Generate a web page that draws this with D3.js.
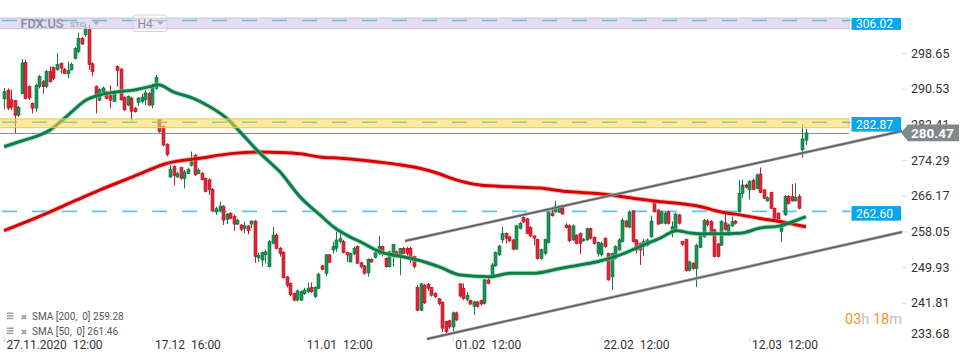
<!DOCTYPE html>
<html>
<head>
    <meta charset="utf-8">
    <title>FDX.US H4</title>
    <script src="https://cdn.jsdelivr.net/npm/d3@7"></script>
    <style>
        body { margin: 0; background: #fff; }
        svg { display: block; }
    </style>
</head>
<body>
<div id="chart"></div>
<script>
// Variables
var symbol = "FDX.US";
var market = "STC";
var interval = "H4";

// H4 candles, oldest first: [open, high, low, close]
var ohlc = [
    [288.2,290.7,285.8,289.9],[290.2,290.6,285.7,286.1],[288.0,290.3,285.7,286.3],[287.8,288.0,280.4,284.5],
    [284.5,286.6,284.1,286.3],[289.4,297.3,289.3,296.4],[296.5,297.1,288.1,288.3],[291.0,291.3,288.0,288.4],
    [287.2,287.4,284.9,286.1],[286.1,291.7,285.3,291.3],[291.0,293.7,290.6,293.3],[292.1,292.5,289.4,291.0],
    [291.0,294.8,290.6,294.4],[294.4,295.6,291.9,292.1],[295.4,295.6,292.5,292.9],[294.8,298.6,294.7,296.0],
    [296.3,296.5,294.0,295.2],[295.0,295.2,293.9,294.0],[293.9,296.7,292.9,294.7],[294.8,296.5,294.7,296.1],
    [297.4,300.0,297.2,299.7],[299.0,303.2,298.6,302.0],[302.0,302.3,300.5,300.7],[302.8,305.3,302.3,304.1],
    [304.1,305.0,294.8,296.0],[296.2,296.5,293.3,294.4],[291.0,291.3,284.9,289.1],[287.9,290.6,287.7,290.3],
    [289.6,291.0,289.3,290.7],[289.8,290.1,288.1,288.3],[289.0,291.3,286.1,287.9],[287.6,290.2,287.5,289.8],
    [295.6,295.8,291.0,294.7],[295.0,295.2,287.8,288.0],[288.5,288.8,285.5,285.7],[286.8,289.0,286.6,288.8],
    [288.4,288.6,283.3,285.4],[286.1,286.3,285.1,285.3],[287.4,288.6,286.6,288.4],[287.6,289.3,287.2,288.6],
    [288.0,290.2,286.8,289.6],[289.4,289.8,286.6,286.8],[286.8,291.7,286.1,291.3],[290.6,293.7,290.3,293.1],
    [283.5,283.6,280.5,280.8],[281.9,282.1,277.4,277.7],[277.9,278.1,275.1,275.5],[270.4,273.1,270.3,272.2],
    [272.8,273.1,268.6,270.8],[270.4,271.6,270.3,271.2],[272.6,272.8,269.8,270.1],[270.1,272.0,267.8,271.6],
    [271.2,272.5,271.1,272.2],[273.1,276.2,272.8,273.9],[275.4,275.7,270.7,270.9],[271.2,272.4,271.1,272.0],
    [271.2,271.6,269.7,269.8],[270.1,270.3,266.9,267.1],[269.8,270.1,266.3,267.5],[267.6,267.9,262.5,262.7],
    [262.5,263.7,261.8,263.2],[262.8,264.8,262.5,263.8],[263.8,264.0,259.5,260.6],[260.8,262.2,259.7,262.0],
    [262.2,262.4,260.8,261.0],[261.5,261.8,258.2,259.7],[259.7,260.9,259.5,260.6],[259.5,259.7,258.0,258.5],
    [258.7,260.2,257.7,259.3],[259.3,259.5,257.4,258.2],[259.7,260.5,258.7,260.4],[260.4,260.6,250.9,252.3],
    [252.0,253.2,251.1,252.6],[251.5,253.4,250.0,253.2],[252.7,253.9,250.8,253.4],[250.0,256.1,249.8,255.7],
    [255.3,259.0,255.1,257.2],[257.2,257.6,253.9,254.2],[254.2,254.5,252.3,253.0],[253.3,253.5,247.3,247.5],
    [247.7,247.9,245.3,245.8],[246.2,246.4,243.3,243.6],[243.9,244.1,242.1,242.4],[242.4,244.8,242.1,244.5],
    [242.4,244.6,242.2,244.3],[243.9,245.2,243.6,244.7],[244.3,246.4,244.0,245.1],[245.3,246.4,244.1,244.3],
    [243.2,245.5,242.9,245.3],[245.1,248.6,244.9,248.3],[250.2,250.4,249.2,249.4],[248.5,252.9,247.9,252.7],
    [252.7,252.9,250.8,251.0],[253.8,255.7,253.0,254.6],[254.2,258.0,253.4,256.1],[255.7,257.6,255.3,256.4],
    [255.7,256.1,253.0,253.2],[253.2,253.4,251.1,252.7],[251.1,253.2,250.9,253.0],[252.9,254.6,252.7,254.2],
    [254.6,254.9,250.6,250.8],[250.9,251.1,249.6,250.0],[250.2,250.4,248.2,248.5],[248.6,251.9,247.7,251.7],
    [251.7,251.9,250.9,251.1],[252.1,253.7,251.9,253.2],[253.0,257.0,252.7,254.6],[254.6,254.8,252.3,253.0],
    [251.9,252.1,249.8,250.0],[250.0,253.7,249.8,253.4],[252.3,255.2,250.0,255.1],[253.4,253.7,252.0,252.7],
    [252.4,254.3,248.1,254.2],[254.2,254.5,252.8,253.0],[254.2,254.5,252.5,253.0],[254.2,254.5,250.8,251.9],
    [252.3,252.5,249.6,250.0],[245.3,245.8,239.9,240.1],[240.1,246.3,239.9,246.1],[245.8,246.1,241.5,241.8],
    [246.0,246.3,244.5,245.1],[245.3,245.4,243.2,243.5],[243.9,244.2,242.9,243.2],[242.7,242.9,241.2,241.6],
    [241.9,242.1,235.1,236.0],[237.5,237.7,234.8,235.2],[237.7,237.9,235.9,236.3],[236.3,239.8,235.2,239.5],
    [239.5,239.8,237.6,237.9],[246.1,246.2,243.0,243.3],[245.1,246.2,242.4,242.8],[242.6,244.2,242.1,243.5],
    [242.3,242.5,241.3,241.5],[241.0,242.3,239.0,242.0],[242.0,242.2,240.7,241.0],[242.3,242.5,241.2,241.5],
    [241.7,247.2,241.4,247.0],[247.0,247.4,246.0,246.2],[247.8,250.8,247.6,250.4],[250.2,253.5,250.0,253.2],
    [252.7,255.0,252.5,254.7],[256.1,259.1,255.3,257.6],[257.6,257.8,255.3,256.5],[256.8,257.0,255.6,255.9],
    [256.1,256.3,253.7,254.0],[254.0,259.5,253.8,259.3],[258.7,260.2,258.5,259.9],[261.2,261.5,259.9,260.2],
    [260.9,261.1,257.4,257.6],[258.9,259.2,256.7,257.0],[257.0,257.2,254.9,256.5],[256.2,256.4,251.6,251.9],
    [251.9,254.1,251.6,253.9],[253.0,256.4,252.7,256.2],[255.5,262.6,255.3,262.3],[262.2,262.9,261.4,261.6],
    [262.5,265.0,262.3,263.8],[262.4,264.0,262.2,263.8],[263.8,264.1,261.8,262.0],[259.5,259.9,258.7,258.9],
    [259.3,259.6,255.6,255.9],[256.1,259.6,255.9,259.3],[257.2,257.4,255.1,255.3],[257.6,257.8,252.9,255.3],
    [255.9,256.5,255.7,256.2],[256.1,258.9,255.9,258.7],[258.7,258.9,256.2,256.5],[256.7,256.9,255.0,255.3],
    [253.0,255.7,252.3,255.5],[252.7,255.7,252.3,255.3],[256.5,256.7,254.3,254.6],[253.0,253.2,246.8,247.0],
    [247.7,253.2,244.7,253.0],[251.9,254.9,251.6,254.6],[253.8,256.5,253.6,256.1],[255.7,261.0,255.5,260.6],
    [260.4,260.6,258.9,259.1],[259.0,262.8,258.8,262.5],[262.7,262.9,255.5,255.7],[256.1,256.3,253.0,253.8],
    [255.3,255.5,250.4,253.8],[254.6,256.3,252.4,255.7],[254.9,256.4,254.6,256.1],[256.8,261.6,256.6,260.4],
    [264.8,265.1,262.3,262.5],[262.9,263.1,259.5,259.7],[259.9,262.8,259.7,262.5],[259.9,262.5,259.6,262.2],
    [262.5,262.8,259.6,259.9],[258.0,260.3,256.7,259.1],[258.4,262.3,258.2,262.0],[261.8,262.0,259.6,259.9],
    [255.7,255.9,254.7,255.1],[256.2,256.4,248.9,249.1],[249.2,251.4,248.9,251.1],[250.8,251.0,249.3,249.6],
    [249.6,255.2,245.4,254.9],[254.4,257.5,254.2,257.2],[256.8,260.9,256.6,260.6],[260.4,260.8,259.2,259.6],
    [260.3,260.6,257.4,257.6],[258.4,258.6,252.1,252.3],[255.2,255.4,252.1,252.3],[254.9,260.6,254.7,260.3],
    [260.0,262.1,258.2,258.5],[257.2,259.8,257.0,259.5],[259.3,261.4,259.1,260.3],[260.4,260.6,259.6,259.9],
    [262.5,269.7,262.3,266.7],[266.7,269.9,265.6,268.6],[268.6,268.9,267.8,268.1],[267.5,269.7,265.3,269.4],
    [269.7,270.0,267.4,267.6],[267.8,271.2,267.6,270.9],[271.1,272.6,266.7,266.9],[267.5,267.7,265.4,265.6],
    [265.0,266.0,264.8,265.7],[266.9,267.1,263.1,263.3],[263.3,263.5,260.6,260.8],[262.2,262.4,260.1,260.3],
    [258.0,260.1,255.7,259.9],[261.8,266.3,261.6,266.0],[266.0,266.3,264.2,264.4],[266.0,268.8,264.8,265.0],
    [265.0,269.0,264.8,265.8],[266.0,266.5,263.1,263.3],[276.6,282.4,274.8,279.1],[278.8,281.4,277.7,280.47]
];

// moving averages: [candle index, price]
var sma50 = [
    [0,277.3],[4.5,278.5],[10.2,280.0],[13,281.1],[17.7,284.2],[23.4,288.0],[27.2,289.1],[31.9,289.8],
    [36.6,290.2],[41.3,291.0],[43.7,291.4],[47.9,289.8],[53.6,288.3],[57.4,286.8],[63,283.8],[66.8,280.7],
    [72.5,275.8],[78.1,271.6],[83.8,265.9],[89.4,261.8],[93.7,258.8],[97.9,256.8],[100.8,255.7],[106.4,253.4],
    [112.1,252.4],[117.7,251.4],[123.4,249.9],[129.1,248.1],[137.6,247.7],[143.2,248.5],[149.7,248.5],
    [157.4,249.6],[163,250.4],[168.7,251.3],[174.4,252.7],[180,254.6],[185.7,256.5],[190.4,258.2],
    [194.2,257.7],[198.9,257.5],[204.6,257.5],[208.3,257.6],[214,258.8],[219.6,259.3],[223.4,260.3],[227,261.4]
];
var sma200 = [
    [0,258.2],[10.2,261.5],[20.6,265.2],[27.2,267.5],[36.6,270.5],[46,273.5],[55.5,274.7],[64.9,275.8],
    [72.5,276.1],[78.1,276.0],[83.8,275.7],[89.4,275.0],[95.1,274.7],[100.8,274.3],[106.4,273.8],[112.1,273.2],
    [117.7,272.4],[123.4,271.1],[127.1,270.0],[134.7,268.6],[143.2,268.2],[151.7,267.9],[159.4,267.1],
    [168.7,266.6],[178,265.6],[185.7,264.8],[191.3,264.4],[197,263.7],[202.7,262.5],[208.3,261.8],
    [214,261.0],[219.6,260.3],[223.3,259.7],[227,259.1]
];

// trend channel: two points each, [candle index, price]
var channelUpper = [[113.5, 255.85], [254.2, 280.89]];
var channelLower = [[119.7, 233.55], [254.2, 257.9]];

// horizontal levels and zones
var levelLines = [306.02, 282.87, 262.60];
var lastPrice = 280.47;
var zones = [[304.2, 306.6], [281.65, 283.65]];

// axes
var priceTicks = [298.65, 290.53, 282.41, 274.29, 266.17, 258.05, 249.93, 241.81, 233.68];
var timeTicks = [0, 42, 85, 127, 169, 211];
var timeLabels = ["27.11.2020  12:00", "17.12  16:00", "11.01  12:00", "01.02  12:00", "22.02  12:00", "12.03  12:00"];

var legendRows = ["SMA [200,  0] 259.28", "SMA [50,  0] 261.46"];
var countdown = [["03", "h"], ["18", "m"]];

var width = 970, height = 364;
var plotRight = 849;
var svg, x, y;

var fontFamily = "Roboto, 'Liberation Sans', sans-serif";

// Functions
function init() {
    svg = d3.select("#chart")
        .append("svg")
        .attr("width", width)
        .attr("height", height);

    x = d3.scaleLinear().domain([0, ohlc.length - 1]).range([4, 806]);
    y = d3.scaleLinear().domain([241.81, 298.65]).range([302.7, 53]);

    svg.append("defs").append("clipPath")
        .attr("id", "plot-clip")
        .append("rect")
        .attr("x", 0).attr("y", 15)
        .attr("width", 903).attr("height", 326);

    drawLevels();
    drawCandles();
    drawAverages();
    drawChannel();
    drawZones();
    drawHeader();
    drawPriceAxis();
    drawTimeAxis();
    drawLegend();
}

function crisp(v) {
    return Math.round(v) + 0.5;
}

/**
 * Current price line and the 262.60 level, under the candles
 */
function drawLevels() {
    svg.append("line")
        .attr("x1", 0).attr("x2", plotRight)
        .attr("y1", crisp(y(lastPrice))).attr("y2", crisp(y(lastPrice)))
        .attr("stroke", "#8d9497")
        .attr("stroke-width", 1);

    svg.append("line")
        .attr("x1", 2).attr("x2", plotRight)
        .attr("y1", y(levelLines[2])).attr("y2", y(levelLines[2]))
        .attr("stroke", "#5cc3f3")
        .attr("stroke-width", 1.6)
        .attr("stroke-dasharray", "15,15");
}

/**
 * Candles: wick first, body on top
 */
function drawCandles() {
    var g = svg.append("g").attr("clip-path", "url(#plot-clip)");

    var candle = g.selectAll("g.candle")
        .data(ohlc)
        .join("g")
        .attr("class", "candle");

    candle.append("line")
        .attr("x1", function (d, i) { return Math.round(x(i)) + 0.5; })
        .attr("x2", function (d, i) { return Math.round(x(i)) + 0.5; })
        .attr("y1", function (d) { return y(d[1]); })
        .attr("y2", function (d) { return y(d[2]); })
        .attr("stroke", function (d) { return d[3] >= d[0] ? "#0f7a44" : "#c41a2a"; })
        .attr("stroke-width", 1);

    candle.append("rect")
        .attr("x", function (d, i) { return Math.round(x(i)) - 1; })
        .attr("y", function (d) { return y(Math.max(d[0], d[3])); })
        .attr("width", 3)
        .attr("height", function (d) { return Math.max(1, Math.abs(y(d[0]) - y(d[3]))); })
        .attr("fill", function (d) { return d[3] >= d[0] ? "#179552" : "#e0263b"; })
        .attr("stroke", function (d) { return d[3] >= d[0] ? "#0d6e3c" : "#b2141f"; })
        .attr("stroke-width", 0.6);
}

function drawAverages() {
    var line = d3.line()
        .x(function (d) { return x(d[0]); })
        .y(function (d) { return y(d[1]); })
        .curve(d3.curveMonotoneX);

    var g = svg.append("g").attr("clip-path", "url(#plot-clip)").attr("fill", "none");

    [[sma200, "#d60000", "#f08a8a"], [sma50, "#0b7d46", "#86c9a4"]].forEach(function (s) {
        g.append("path").attr("d", line(s[0]))
            .attr("stroke", s[2]).attr("stroke-width", 5).attr("stroke-opacity", 0.55);
        g.append("path").attr("d", line(s[0]))
            .attr("stroke", s[1]).attr("stroke-width", 3);
    });
}

function drawChannel() {
    var line = d3.line()
        .x(function (d) { return x(d[0]); })
        .y(function (d) { return y(d[1]); });

    [channelUpper, channelLower].forEach(function (c) {
        svg.append("path").attr("d", line(c))
            .attr("fill", "none").attr("stroke", "#a3a3a3").attr("stroke-width", 3);
        svg.append("path").attr("d", line(c))
            .attr("fill", "none").attr("stroke", "#5e5e5e").attr("stroke-width", 1.4);
    });
}

/**
 * Purple and yellow zones sit over the candles, see-through
 */
function drawZones() {
    var fills = ["rgba(212,202,232,0.62)", "rgba(252,216,80,0.55)"];
    var strokes = ["#c9bde2", "#f0c93a"];

    svg.selectAll("rect.zone")
        .data(zones)
        .join("rect")
        .attr("class", "zone")
        .attr("x", -2)
        .attr("y", function (d) { return y(d[1]); })
        .attr("width", plotRight + 2)
        .attr("height", function (d) { return y(d[0]) - y(d[1]); })
        .attr("fill", function (d, i) { return fills[i]; })
        .attr("stroke", function (d, i) { return strokes[i]; })
        .attr("stroke-width", 1);

    // dashed levels inside the zones
    svg.append("line")
        .attr("x1", 2).attr("x2", plotRight)
        .attr("y1", y(levelLines[0])).attr("y2", y(levelLines[0]))
        .attr("stroke", "#6fb7ea").attr("stroke-width", 1.5)
        .attr("stroke-dasharray", "15,15");

    svg.append("line")
        .attr("x1", 2).attr("x2", plotRight)
        .attr("y1", y(levelLines[1])).attr("y2", y(levelLines[1]))
        .attr("stroke", "#97c98f").attr("stroke-width", 1.5)
        .attr("stroke-dasharray", "15,15");
}

function drawHeader() {
    var g = svg.append("g").attr("font-family", fontFamily);

    g.append("text").attr("x", 20.5).attr("y", 27.8)
        .attr("font-size", 12.8).attr("font-weight", 500).attr("fill", "#8a8a99")
        .text(symbol);
    g.append("text").attr("x", 70).attr("y", 27)
        .attr("font-size", 8).attr("font-weight", 500).attr("fill", "#a2a2b2")
        .text(market);
    g.append("path").attr("d", "M93,21.5 L99.5,21.5 L96.25,25 Z").attr("fill", "#a8a8b8");

    g.append("rect")
        .attr("x", 133).attr("y", 15).attr("width", 34).attr("height", 16.5).attr("rx", 3)
        .attr("fill", "rgba(255,255,255,0.25)").attr("stroke", "#d6d0e4");
    g.append("text").attr("x", 137.5).attr("y", 27.8)
        .attr("font-size", 12).attr("fill", "#8a8a99")
        .text(interval);
    g.append("path").attr("d", "M157,21.5 L163.5,21.5 L160.25,25 Z").attr("fill", "#a8a8b8");
}

/**
 * Price axis on the right, level boxes and the last price tag
 */
function drawPriceAxis() {
    var axis = d3.axisRight(y)
        .tickValues(priceTicks)
        .tickFormat(d3.format(".2f"))
        .tickSize(5)
        .tickPadding(4);

    var g = svg.append("g")
        .attr("transform", "translate(902,0)")
        .call(axis)
        .attr("font-family", fontFamily)
        .attr("font-size", 12.5);

    g.select(".domain").remove();
    g.selectAll(".tick line").attr("stroke", "#dddddd");
    g.selectAll(".tick text").attr("fill", "#333333");

    // the lowest label is pushed up against the bottom edge
    g.selectAll(".tick")
        .filter(function (d) { return y(d) > 336; })
        .attr("transform", "translate(0,334)")
        .select("line").remove();

    var boxes = svg.append("g").attr("font-family", fontFamily);
    levelLines.forEach(function (v) {
        var mid = y(v) + 2;
        var top = Math.max(18, mid - 7.3);
        var bottom = mid + 7.3;
        boxes.append("line")
            .attr("x1", 843).attr("x2", 851)
            .attr("y1", y(v)).attr("y2", y(v))
            .attr("stroke", "#5ab7ea").attr("stroke-width", 1);
        boxes.append("rect")
            .attr("x", 851.5).attr("y", top)
            .attr("width", 49.5).attr("height", bottom - top)
            .attr("fill", "#08a6ef");
        boxes.append("text")
            .attr("x", 856).attr("y", (top + bottom) / 2 + 4.2)
            .attr("font-size", 12).attr("fill", "#ffffff")
            .text(d3.format(".2f")(v));
    });

    var ly = y(lastPrice);
    svg.append("path")
        .attr("d", "M901," + ly + " L908," + (ly - 8.3) + " L959," + (ly - 8.3) +
            " L959," + (ly + 8.3) + " L908," + (ly + 8.3) + " Z")
        .attr("fill", "#7f888b");
    svg.append("text")
        .attr("x", 911).attr("y", ly + 5)
        .attr("font-family", fontFamily).attr("font-size", 13.5).attr("font-weight", 700)
        .attr("fill", "#ffffff")
        .text(d3.format(".2f")(lastPrice));
}

function drawTimeAxis() {
    var axis = d3.axisBottom(x)
        .tickValues(timeTicks)
        .tickFormat(function (d, i) { return timeLabels[i]; })
        .tickSize(5);

    var g = svg.append("g")
        .attr("transform", "translate(0,337)")
        .call(axis)
        .attr("font-family", fontFamily)
        .attr("font-size", 12);

    g.select(".domain").remove();
    g.selectAll(".tick line").attr("stroke", "#d4d4d4");
    g.selectAll(".tick text")
        .attr("text-anchor", "start")
        .attr("x", 2).attr("y", 12).attr("dy", 0)
        .attr("fill", "#333333")
        .style("white-space", "pre");
}

function drawLegend() {
    var g = svg.append("g").attr("font-family", fontFamily);

    legendRows.forEach(function (row, i) {
        var cy = 316.5 + i * 15;
        for (var k = 0; k < 3; k++) {
            g.append("rect")
                .attr("x", 7).attr("y", cy - 4 + k * 2.6)
                .attr("width", 6.5).attr("height", 1.5)
                .attr("fill", "#a0a0a0");
        }
        g.append("text").attr("x", 20.5).attr("y", cy + 3.5)
            .attr("font-family", "DejaVu Sans").attr("font-size", 8).attr("fill", "#a0a0a0")
            .text("\u2716");
        g.append("text").attr("x", 32).attr("y", cy + 3.5)
            .attr("font-size", 10).attr("fill", "#555555")
            .style("white-space", "pre")
            .text(row);
    });

    var t = g.append("text").attr("x", 845).attr("y", 324).attr("font-size", 14.5);
    countdown.forEach(function (part, i) {
        t.append("tspan").attr("fill", "#f7941d").text((i > 0 ? " " : "") + part[0]);
        t.append("tspan").attr("fill", "#bdbdbd").text(part[1]);
    });
}

init();
</script>
</body>
</html>
